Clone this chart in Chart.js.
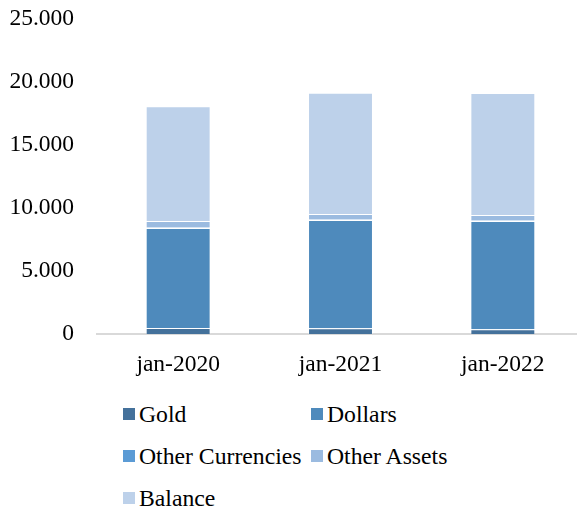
<!DOCTYPE html>
<html>
<head>
<meta charset="utf-8">
<script src="https://cdn.jsdelivr.net/npm/chart.js@4"></script>
<style>
  html, body { margin: 0; padding: 0; background: #fff; overflow: hidden; }
  #wrap { position: absolute; left: 0; top: 0; width: 584px; height: 381px; }
  #legend {
    position: absolute; left: 123px; top: 402px;
    display: grid; grid-template-columns: 188px auto; row-gap: 18px;
    font-family: "Liberation Serif", "Times New Roman", serif; font-size: 23.7px; color: #000;
  }
  .item { display: flex; align-items: center; height: 24px; white-space: nowrap; }
  .box { width: 12px; height: 12px; margin-right: 4px; flex: none; }
</style>
</head>
<body>
<div id="wrap"><canvas id="reserves"></canvas></div>
<div id="legend"></div>
<script>
const labels = ['jan-2020', 'jan-2021', 'jan-2022'];
const seriesNames = ['Gold', 'Dollars', 'Other Currencies', 'Other Assets', 'Balance'];
const gold = [475, 450, 370];
const dollars = [7920, 8580, 8580];
const otherCurrencies = [40, 40, 40];
const otherAssets = [515, 430, 435];
const balance = [9090, 9620, 9680];
const colors = ['#44719b', '#4e8abc', '#5b9bd5', '#9bbbe0', '#bdd1ea'];

const serif = '"Liberation Serif", "Times New Roman", serif';
const allSeries = [gold, dollars, otherCurrencies, otherAssets, balance];

const chart = new Chart(document.getElementById('reserves').getContext('2d'), {
  type: 'bar',
  data: {
    labels,
    datasets: allSeries.map((data, i) => ({
      label: seriesNames[i],
      data,
      backgroundColor: colors[i],
      borderColor: 'rgba(255,255,255,0.28)',
      borderWidth: 1,
      barPercentage: 0.5,
      categoryPercentage: 0.8
    }))
  },
  options: {
    responsive: true,
    maintainAspectRatio: false,
    animation: false,
    layout: { padding: { top: 18.5, left: 0, right: 0, bottom: 0 } },
    plugins: {
      legend: { display: false },
      tooltip: { enabled: false }
    },
    scales: {
      x: {
        stacked: true,
        grid: { display: false },
        border: { display: true, color: '#d9d9d9', width: 2 },
        ticks: { color: '#000', padding: 9, font: { family: serif, size: 23.5 } },
        afterFit: scale => { scale.height = 47; }
      },
      y: {
        stacked: true,
        min: 0,
        max: 25000,
        grid: { display: false },
        border: { display: false },
        ticks: {
          stepSize: 5000,
          color: '#000',
          padding: 15,
          font: { family: serif, size: 23.5 },
          callback: v => v.toLocaleString('de-DE')
        },
        afterFit: scale => {
          scale.width = 97;
          // top tick label may overhang the plot; keep the plot top fixed
          scale.paddingTop = 0;
          scale.paddingBottom = 0;
        }
      }
    }
  }
});

// legend laid out as a two-column grid under the plot
const legendEl = document.getElementById('legend');
seriesNames.forEach((name, i) => {
  const item = document.createElement('div');
  item.className = 'item';
  item.innerHTML = `<span class="box" style="background:${colors[i]}"></span><span>${name}</span>`;
  legendEl.appendChild(item);
});
</script>
</body>
</html>
